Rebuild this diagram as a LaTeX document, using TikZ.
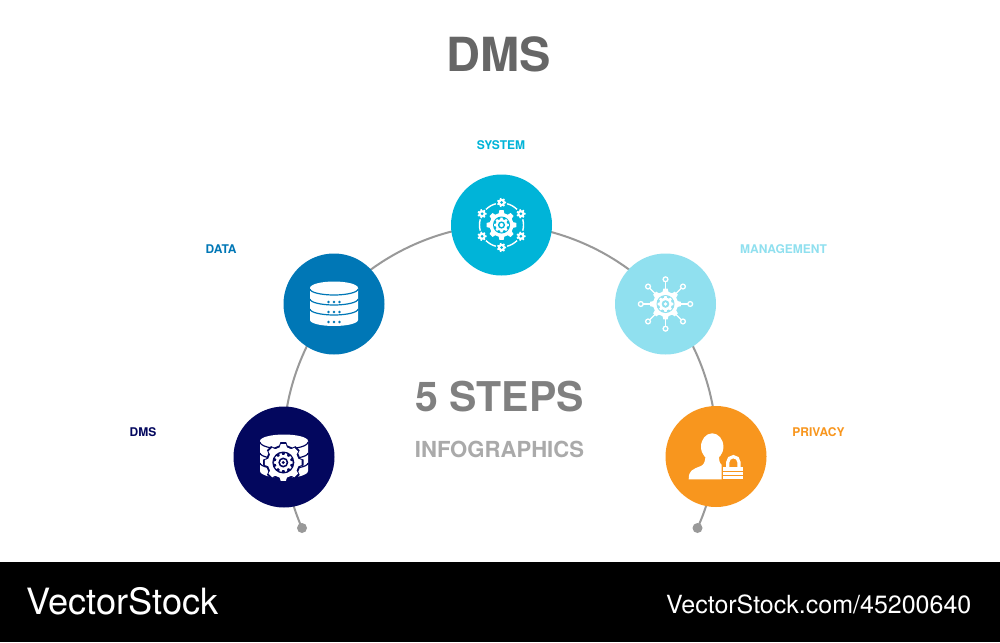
\documentclass[tikz,border=0pt]{standalone}
\usepackage{fontspec}
\setmainfont{TeX Gyre Heros}
\usetikzlibrary{backgrounds}
\definecolor{cnavy}{HTML}{03075E}
\definecolor{cblue}{HTML}{0077B6}
\definecolor{ccyan}{HTML}{00B4D8}
\definecolor{clight}{HTML}{90E0EF}
\definecolor{corange}{HTML}{F8961E}
\definecolor{carc}{HTML}{999999}
\definecolor{ctitle}{HTML}{666666}
\definecolor{csteps}{HTML}{808080}
\definecolor{cinfo}{HTML}{AAAAAA}
\newcommand\gearfill[4][white]{%
  \pgfmathsetmacro\gp{360/#4}%
  \fill[#1] ({-0.3*\gp}:#3)
    \foreach \k in {1,...,#4} {
      -- ({(\k-1)*\gp-0.3*\gp}:#3) -- ({(\k-1)*\gp-0.18*\gp}:#2)
      -- ({(\k-1)*\gp+0.18*\gp}:#2) -- ({(\k-1)*\gp+0.3*\gp}:#3)
    } -- cycle;}
\tikzset{
  stepdisc/.style={circle,minimum size=101pt,inner sep=0pt,fill=#1},
  steplabel/.style={font=\bfseries\fontsize{12}{14}\selectfont,text=#1,inner sep=0pt},
  arcline/.style={draw=carc,line width=2pt,looseness=0.85},
  enddot/.style={circle,fill=carc,minimum size=10pt,inner sep=0pt}
}
\begin{document}
\begin{tikzpicture}[x=1pt,y=-1pt]
\useasboundingbox (0,0) rectangle (1000,642);
% discs
\node[stepdisc=cnavy] (dms) at (284,457) {};
\node[stepdisc=cblue] (data) at (334,304) {};
\node[stepdisc=ccyan] (system) at (501.5,225) {};
\node[stepdisc=clight] (mgmt) at (665.5,304) {};
\node[stepdisc=corange] (privacy) at (716,456.5) {};
\node[enddot] (endl) at (302,528) {};
\node[enddot] (endr) at (697.5,528) {};
% connectors
\begin{scope}[on background layer]
\fill[white] (0,0) rectangle (1000,642);
\draw[arcline] (endl.center) to[bend left=9.7] (dms.center);
\draw[arcline] (dms.center) to[bend left=21.8] (data.center);
\draw[arcline] (data.center) to[bend left=25.2] (system.center);
\draw[arcline] (system.center) to[bend left=25.1] (mgmt.center);
\draw[arcline] (mgmt.center) to[bend left=21.8] (privacy.center);
\draw[arcline] (privacy.center) to[bend left=10] (endr.center);
\end{scope}
% texts
\node[font=\bfseries\fontsize{47}{50}\selectfont,text=ctitle,inner sep=0pt] (title) at (499,54.5) {DMS};
\node[font=\bfseries\fontsize{41}{44}\selectfont,text=csteps,inner sep=0pt] (steps) at (499.5,397) {5 STEPS};
\node[font=\bfseries\fontsize{22.1}{26}\selectfont,text=cinfo,inner sep=0pt] (info) at (499.5,449) {INFOGRAPHICS};
\node[steplabel=cnavy] (ldms) at (143,432.5) {DMS};
\node[steplabel=cblue] (ldata) at (221,249.5) {DATA};
\node[steplabel=ccyan] (lsystem) at (501,145) {SYSTEM};
\node[steplabel=clight] (lmgmt) at (783.5,249.5) {MANAGEMENT};
\node[steplabel=corange] (lprivacy) at (818.5,432.5) {PRIVACY};
% footer
\fill[black] (0,562) rectangle (1000,642);
\node[anchor=west,text=white,inner sep=0pt,font=\fontsize{36.2}{40}\selectfont] (vs) at (26,601) {VectorStock};
\node[anchor=east,text=white,inner sep=0pt,font=\fontsize{25}{28}\selectfont] (vsurl) at (971.5,604.5) {VectorStock.com/45200640};
% DMS icon
\begin{scope}[shift={(dms.center)}]
\fill[white] (-24,-16) -- (-24,14) arc[x radius=24,y radius=7,start angle=180,end angle=0] -- (24,-16) arc[x radius=24,y radius=6.5,start angle=0,end angle=-180] -- cycle;
\draw[cnavy,line width=1.2pt] (-24,-15) arc[x radius=24,y radius=7,start angle=180,end angle=0];
\foreach \yy in {-4,6} {
  \draw[cnavy,line width=1.2pt] (-24,\yy) arc[x radius=24,y radius=6,start angle=180,end angle=130];
  \draw[cnavy,line width=1.2pt] (24,\yy) arc[x radius=24,y radius=6,start angle=0,end angle=50];
}
\begin{scope}[shift={(-0.7,5.5)}]
\gearfill[cnavy]{20.5}{17.5}{8}
\gearfill{18.5}{15.5}{8}
\fill[cnavy] (0,0) circle[radius=11];
\gearfill{9.5}{7.5}{10}
\fill[cnavy] (0,0) circle[radius=5];
\fill[white] (0,0) circle[radius=3.2];
\fill[cnavy] (0,0) circle[radius=1.6];
\end{scope}
\end{scope}
% DATA icon
\begin{scope}[shift={(data.center)}]
\fill[white] (-24,-16) -- (-24,16) arc[x radius=24,y radius=6,start angle=180,end angle=0] -- (24,-16) arc[x radius=24,y radius=6.5,start angle=0,end angle=-180] -- cycle;
\foreach \yy in {-15,-5,5} {
  \draw[cblue,line width=1.2pt] (-24,\yy) arc[x radius=24,y radius=6,start angle=180,end angle=0];
}
\foreach \yy in {-2,8,18} { \foreach \xx in {-5.5,0,5.5} {
  \fill[cblue] (\xx,\yy) circle[radius=1.4];
}}
\end{scope}
% SYSTEM icon
\begin{scope}[shift={(system.center)}]
\gearfill{15}{12}{8}
\fill[ccyan] (0,0) circle[radius=8.5];
\gearfill{7.5}{5.8}{8}
\fill[ccyan] (0,0) circle[radius=3.6];
\fill[white] (0,0) circle[radius=2];
\foreach \a in {30,90,...,330} {
  \begin{scope}[shift={(\a:22.5)}]
  \gearfill{4.6}{3.5}{7}
  \fill[ccyan] (0,0) circle[radius=1.5];
  \end{scope}
}
\foreach \a in {0,60,...,300} {
  \draw[white,line width=1.4pt] ({\a-15}:22) arc[radius=22,start angle={\a-15},end angle={\a+15}];
}
\end{scope}
% MANAGEMENT icon
\begin{scope}[shift={(mgmt.center)}]
\foreach \a in {0,45,...,315} {
  \draw[white,line width=1.3pt] (\a:13) -- (\a:22.3);
  \draw[white,line width=1.3pt] (\a:24.7) circle[radius=2.4];
}
\gearfill{15.5}{12.5}{8}
\fill[clight] (0,0) circle[radius=9];
\gearfill{8}{6.3}{8}
\fill[clight] (0,0) circle[radius=3.8];
\fill[white] (0,0) circle[radius=1.9];
\end{scope}
% PRIVACY icon
\begin{scope}[shift={(privacy.center)}]
\fill[white] (-3.8,-9.8) ellipse[x radius=11.2,y radius=13.4];
\fill[white] (-27.3,22.8) .. controls (-27.3,14) and (-24,13) .. (-15,9.5) .. controls (-11.5,8) and (-11,4) .. (-10.5,0) -- (3,0) .. controls (3,3) and (3,6) .. (5.7,8.5) -- (5.7,22.8) -- cycle;
\draw[white,line width=3.2pt] (11.7,11) -- (11.7,5.8) arc[x radius=5.65,y radius=5.65,start angle=180,end angle=360] -- (23,11);
\fill[white] (7.3,10.8) rectangle (27.3,14.5);
\fill[white] (7.3,15.6) rectangle (27.3,18.5);
\fill[white] (7.3,19.6) rectangle (27.3,22.8);
\end{scope}
\end{tikzpicture}
\end{document}
